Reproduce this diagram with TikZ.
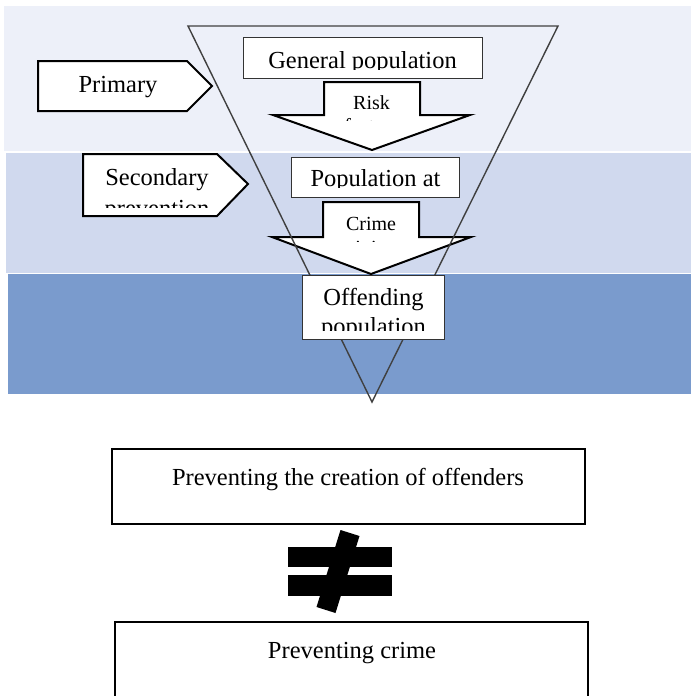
\documentclass[tikz,border=0pt]{standalone}
\usepackage{fontspec}
\setmainfont{Liberation Serif}
\definecolor{bandA}{HTML}{EDF0F9}
\definecolor{bandB}{HTML}{D0D9EE}
\definecolor{bandC}{HTML}{7A9BCD}
\definecolor{triline}{HTML}{404040}
\begin{document}
\begin{tikzpicture}[x=1pt,y=-1pt,
  blockshape/.style={draw=black, line width=2pt, fill=white, line join=miter},
  thinbox/.style={draw=black!80, line width=1pt, fill=white},
  bigbox/.style={draw=black, line width=2pt, fill=white},
  lbl/.style={font=\fontsize{24.5}{28}\selectfont, inner sep=0pt, anchor=base},
  smalllbl/.style={font=\fontsize{20}{23}\selectfont, inner sep=0pt, anchor=base}]
\useasboundingbox (0,0) rectangle (691,696);
\clip (0,0) rectangle (691,696);
% bands
\fill[bandA] (4,6) rectangle (691,151);
\fill[bandB] (6,153) rectangle (691,273);
\fill[bandC] (8,274) rectangle (691,394);
% primary pentagon
\draw[blockshape] (38,61) -- (187,61) -- (212,86) -- (187,111) -- (38,111) -- cycle;
\node[lbl] (primary) at (118,92) {Primary};
% secondary pentagon
\draw[blockshape] (83,154) -- (217,154) -- (248,184) -- (217,216) -- (83,216) -- cycle;
\node[lbl] (secondary) at (157,185) {Secondary};
\begin{scope}
  \clip (84,190) rectangle (216,207);
  \node[lbl] (secondary2) at (157,216) {prevention};
\end{scope}
% general population box
\draw[thinbox] (243,37) rectangle (482,78);
\begin{scope}
  \clip (244,38) rectangle (481,69.5);
  \node[lbl] (general) at (362.5,68.5) {General population};
\end{scope}
% risk arrow
\draw[blockshape] (324,82) -- (420,82) -- (420,115) -- (470,115) -- (372,150) -- (273,115) -- (324,115) -- cycle;
\node[smalllbl] (risk) at (371.5,109) {Risk};
\begin{scope}
  \clip (326,112) rectangle (418,120);
  \node[smalllbl] (risk2) at (371.5,132) {factors};
\end{scope}
% population at risk box
\draw[thinbox] (291,157) rectangle (459,197);
\begin{scope}
  \clip (292,158) rectangle (458,187);
  \node[lbl] (popat) at (375.5,186) {Population at};
\end{scope}
% crime arrow
\draw[blockshape] (323,202) -- (419,202) -- (419,237) -- (471,237) -- (371,274) -- (272,237) -- (323,237) -- cycle;
\node[smalllbl] (crime) at (371,230) {Crime};
\begin{scope}
  \clip (325,234) rectangle (417,241.5);
  \node[smalllbl] (crime2) at (371,254) {precipitators};
\end{scope}
% funnel triangle
\draw[triline, line width=1.4pt, line join=miter] (188,26) -- (558,26) -- (372,402) -- cycle;
% offending box
\draw[thinbox] (302,275) rectangle (444,339);
\node[lbl] (offending) at (373.5,305) {Offending};
\begin{scope}
  \clip (303,310) rectangle (443,330);
  \node[lbl] (offending2) at (373.5,334) {population};
\end{scope}
% bottom boxes
\draw[bigbox] (112,449) rectangle (585,524);
\node[lbl] (prevoff) at (348,485) {Preventing the creation of offenders};
\draw[draw=black, line width=2pt] (115,700) -- (115,622) -- (588,622) -- (588,700);
\node[lbl] (prevcrime) at (352,658) {Preventing crime};
% not-equal sign
\fill[black] (288,547) rectangle (392,567);
\fill[black] (288,575) rectangle (392,596);
\fill[black] (340.5,530) -- (359.5,536) -- (335.5,613) -- (316.5,607) -- cycle;
\end{tikzpicture}
\end{document}
